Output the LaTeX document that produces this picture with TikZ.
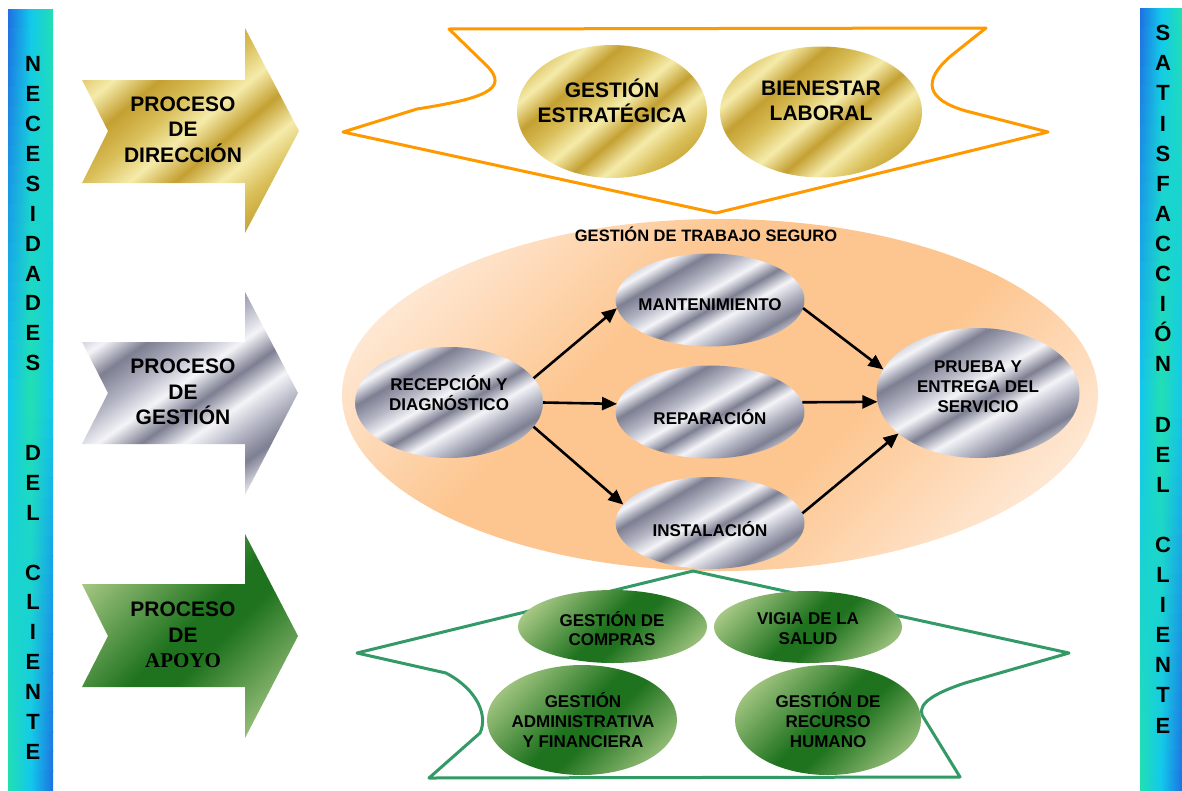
\documentclass[tikz,border=0pt]{standalone}
\usepackage{fontspec}
\setmainfont{Liberation Sans}
\newfontfamily\serifbold{Liberation Serif}
\usetikzlibrary{shapes.geometric,arrows.meta}

\definecolor{silvD}{HTML}{7D7F92}
\definecolor{silvM}{HTML}{B4B6C4}
\definecolor{silvL}{HTML}{F4F4F8}
\definecolor{goldD}{HTML}{C4A032}
\definecolor{goldM}{HTML}{D9BE58}
\definecolor{goldL}{HTML}{F5EBAA}
\definecolor{grnL}{HTML}{C0D898}
\definecolor{grnD}{HTML}{1F731F}
\definecolor{peachL}{HTML}{FFF6F0}
\definecolor{peachO}{HTML}{FDC690}
\definecolor{barB}{HTML}{1E6FE0}
\definecolor{barC}{HTML}{12C8EE}
\definecolor{barG}{HTML}{22E0B0}
\definecolor{bannerorange}{HTML}{FF9900}
\definecolor{bannergreen}{HTML}{339966}

\pgfdeclarehorizontalshading{silverstripes}{100bp}{color(0bp)=(silvD); color(15bp)=(silvD); color(22bp)=(silvM); color(28bp)=(silvL); color(34bp)=(silvD); color(41bp)=(silvM); color(47bp)=(silvL); color(53bp)=(silvD); color(59bp)=(silvL); color(65bp)=(silvM); color(71bp)=(silvD); color(78bp)=(silvL); color(85bp)=(silvD); color(100bp)=(silvD)}
\pgfdeclarehorizontalshading{goldstripes}{100bp}{color(0bp)=(goldD); color(15bp)=(goldD); color(22bp)=(goldM); color(29bp)=(goldL); color(36bp)=(goldD); color(43bp)=(goldM); color(50bp)=(goldL); color(57bp)=(goldD); color(64bp)=(goldL); color(71bp)=(goldM); color(78bp)=(goldD); color(85bp)=(goldM); color(100bp)=(goldM)}
\pgfdeclarehorizontalshading{greenband}{100bp}{color(0bp)=(grnL); color(18bp)=(grnL); color(48bp)=(grnD); color(56bp)=(grnD); color(84bp)=(grnL); color(100bp)=(grnL)}
\pgfdeclarehorizontalshading{peachband}{100bp}{color(0bp)=(peachL); color(16bp)=(peachL); color(40bp)=(peachO); color(60bp)=(peachO); color(84bp)=(peachL); color(100bp)=(peachL)}

% colour of the side bars: s=0 green, 0.5 cyan, 1 blue
\newcommand\defbarcol[2]{%
  \pgfmathsetmacro\bcsval{#2}%
  \ifdim\bcsval pt<0.5pt
    \pgfmathsetmacro\bcpval{200*\bcsval}%
    \colorlet{#1}{barC!\bcpval!barG}%
  \else
    \pgfmathsetmacro\bcpval{200*\bcsval-100}%
    \colorlet{#1}{barB!\bcpval!barC}%
  \fi}

\tikzset{
  ell/.style={ellipse, inner sep=0pt, outer sep=0pt},
  silverell/.style={ell, shade, shading=silverstripes, shading angle=-60},
  goldell/.style={ell, shade, shading=goldstripes, shading angle=-50},
  greenell/.style={ell, shade, shading=greenband, shading angle=-45},
  lbl/.style={font=\fontsize{17}{20.5}\selectfont\bfseries, align=center, inner sep=0pt},
  biglbl/.style={font=\fontsize{21}{25}\selectfont\bfseries, align=center, inner sep=0pt},
  arrowlbl/.style={font=\fontsize{21}{25.5}\selectfont\bfseries, align=center, inner sep=0pt},
  barletter/.style={font=\fontsize{22}{22}\selectfont\bfseries, inner sep=0pt, text height=15.5pt, text depth=0pt},
  flow/.style={line width=2.6pt, -{Triangle[length=15pt,width=13pt]}},
  bannerO/.style={draw=bannerorange, line width=3pt, line join=round},
  bannerG/.style={draw=bannergreen, line width=3pt, line join=round},
}

\begin{document}
\begin{tikzpicture}[x=1pt,y=-1pt]
\useasboundingbox (0,0) rectangle (1182,790);

% side bars, built from thin strips so that the colour runs diagonally
\foreach \i in {0,...,39}{
  \pgfmathsetmacro\vv{1-(\i+0.5)/40}
  \pgfmathsetmacro\vr{1-\vv}
  \pgfmathsetmacro\vm{abs(0.5-\vv)}
  \defbarcol{bcl}{\vv}\defbarcol{bcr}{\vr}\defbarcol{bcm}{\vm}
  \shade[left color=bcl, right color=bcr, middle color=bcm] (8,{9+\i*19.525}) rectangle (53,{9+(\i+1)*19.525+0.6});
  \shade[left color=bcl, right color=bcr, middle color=bcm] (1140,{8+\i*19.55}) rectangle (1182,{8+(\i+1)*19.55+0.6});
}
\foreach \i/\c in {0/N,1/E,2/C,3/E,4/S,5/I,6/D,7/A,8/D,9/E,10/S,13/D,14/E,15/L,17/C,18/L,19/I,20/E,21/N,22/T,23/E}
  \node[barletter] (nl\i) at (33,{64+29.9*\i}) {\c};
\foreach \i/\c in {0/S,1/A,2/T,3/I,4/S,5/F,6/A,7/C,8/C,9/I,10/Ó,11/N,13/D,14/E,15/L,17/C,18/L,19/I,20/E,21/N,22/T,23/E}
  \node[barletter] (sr\i) at (1163,{33+30.1*\i}) {\c};

% process arrows
\shade[shading=goldstripes, shading angle=-50] (82,80) -- (245,80) -- (245,28) -- (299,131) -- (245,233) -- (245,183) -- (82,183) -- (108,131) -- cycle;
\node[arrowlbl] (pdir) at (183,129.5) {PROCESO\\DE\\DIRECCIÓN};
\shade[shading=silverstripes, shading angle=-55] (82,342) -- (245,342) -- (245,292) -- (298,393) -- (245,495) -- (245,444) -- (82,444) -- (108,393) -- cycle;
\node[arrowlbl] (pges) at (183,392) {PROCESO\\DE\\GESTIÓN};
\shade[shading=greenband, shading angle=-45] (82,584) -- (245,584) -- (245,534) -- (298,636) -- (245,738) -- (245,687) -- (82,687) -- (108,636) -- cycle;
\node[arrowlbl] (papo) at (183,635) {PROCESO\\DE\\{\serifbold APOYO}};

% big peach ellipse
\node[ell, shade, shading=peachband, shading angle=-45, minimum width=756pt, minimum height=352pt] (trabajo) at (720,395) {};
\node[font=\fontsize{16.5}{20}\selectfont\bfseries, inner sep=0pt] (trabajoT) at (706,234) {GESTIÓN DE TRABAJO SEGURO};

% top banner
\draw[bannerO] (449,29) -- (986,28) -- (952,55) .. controls (920,82) and (928,100) .. (966,111) -- (1048,132) -- (716,213) -- (343,132) -- (417,109) .. controls (480,99) and (512,90) .. (486,65) -- cycle;
\node[goldell, minimum width=190pt, minimum height=133pt] (ge) at (612,111.5) {};
\node[biglbl] (geT) at (612,101) {GESTIÓN\\ESTRATÉGICA};
\node[goldell, minimum width=202pt, minimum height=131pt] (bl) at (821,112) {};
\node[biglbl] (blT) at (821,101) {BIENESTAR\\LABORAL};

% silver process ellipses
\node[silverell, minimum width=188pt, minimum height=111pt] (rec) at (449,402.5) {};
\node[lbl] (recT) at (449,393) {RECEPCIÓN Y\\DIAGNÓSTICO};
\node[silverell, minimum width=189pt, minimum height=93pt] (man) at (710,300) {};
\node[lbl] (manT) at (710,305) {MANTENIMIENTO};
\node[silverell, minimum width=189pt, minimum height=93pt] (rep) at (710,412) {};
\node[lbl] (repT) at (710,417) {REPARACIÓN};
\node[silverell, minimum width=189pt, minimum height=92pt] (ins) at (710,523) {};
\node[lbl] (insT) at (710,529) {INSTALACIÓN};
\node[silverell, minimum width=203pt, minimum height=130pt] (pru) at (978,393) {};
\node[lbl, font=\fontsize{17}{20}\selectfont\bfseries] (pruT) at (978,387) {PRUEBA Y\\ENTREGA DEL\\SERVICIO};

\draw[flow] (rec.16) -- (man.185);
\draw[flow] (rec.0) -- (rep.175);
\draw[flow] (rec.-16) -- (ins.168);
\draw[flow] (man.-5) -- (pru.166);
\draw[flow] (rep.6) -- (pru.185);
\draw[flow] (ins.6) -- (pru.207);

% bottom banner
\draw[bannerG] (693,571) -- (1069,653) -- (965,683) .. controls (935,693) and (918,703) .. (922,715) -- (960,777) -- (429,778) -- (480,733) .. controls (488,716) and (478,690) .. (446,673) -- (357,653) -- cycle;
\node[greenell, minimum width=189pt, minimum height=73pt] (cmp) at (612.5,626.5) {};
\node[lbl, font=\fontsize{17}{19.5}\selectfont\bfseries] (cmpT) at (612,628.5) {GESTIÓN DE\\COMPRAS};
\node[greenell, minimum width=188pt, minimum height=72pt] (vig) at (808,627) {};
\node[lbl, font=\fontsize{17}{19.5}\selectfont\bfseries] (vigT) at (808,628.5) {VIGIA DE LA\\SALUD};
\node[greenell, minimum width=190pt, minimum height=110pt] (adm) at (582,720) {};
\node[lbl, font=\fontsize{17}{20}\selectfont\bfseries] (admT) at (583,720) {GESTIÓN\\ADMINISTRATIVA\\Y FINANCIERA};
\node[greenell, minimum width=186pt, minimum height=110pt] (rrh) at (828,720) {};
\node[lbl, font=\fontsize{17}{20}\selectfont\bfseries] (rrhT) at (828,720) {GESTIÓN DE\\RECURSO\\HUMANO};
\end{tikzpicture}
\end{document}
